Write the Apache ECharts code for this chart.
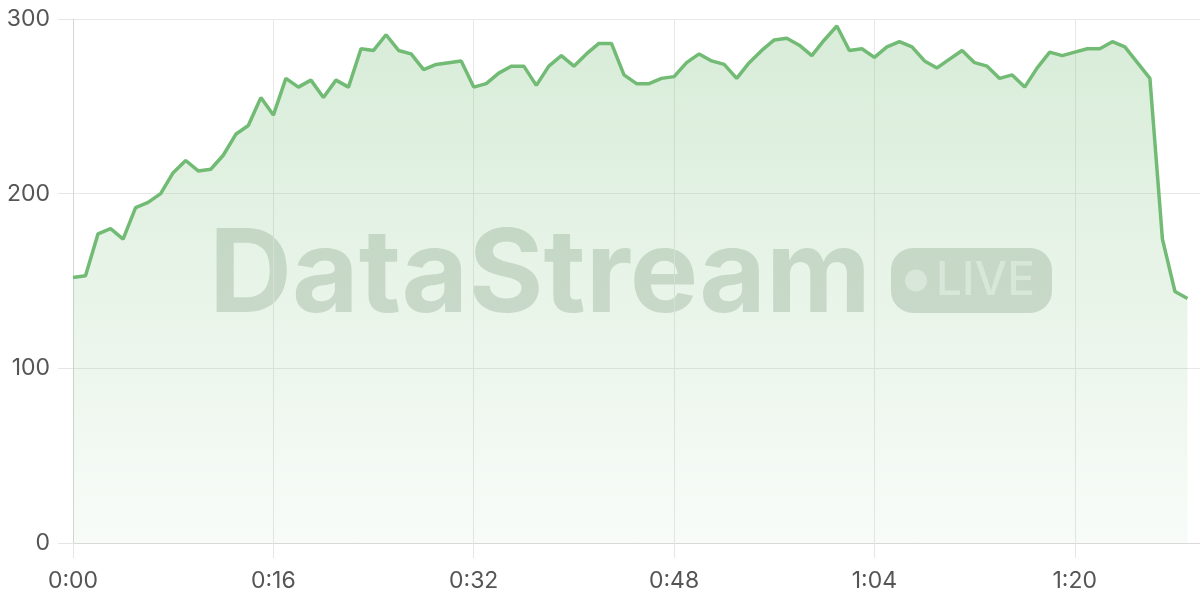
<!DOCTYPE html>
<html>
<head>
<meta charset="utf-8">
<script src="https://cdn.jsdelivr.net/npm/echarts@6/dist/echarts.min.js"></script>
<style>
html,body{margin:0;padding:0;background:#fff;}
#chart{width:1200px;height:600px;}
</style>
</head>
<body>
<div id="chart"></div>
<script>
// Values per second (0:00 .. 1:29)
const values = [
  152, 153, 177, 180, 174, 192, 195, 200, 212, 219,
  213, 214, 222, 234, 239, 255, 245, 266, 261, 265,
  255, 265, 261, 283, 282, 291, 282, 280, 271, 274,
  275, 276, 261, 263, 269, 273, 273, 262, 273, 279,
  273, 280, 286, 286, 268, 263, 263, 266, 267, 275,
  280, 276, 274, 266, 275, 282, 288, 289, 285, 279,
  288, 296, 282, 283, 278, 284, 287, 284, 276, 272,
  277, 282, 275, 273, 266, 268, 261, 272, 281, 279,
  281, 283, 283, 287, 284, 275, 266, 174, 144, 140
];
const yTicks = [0, 100, 200, 300];
const xTickSeconds = [0, 16, 32, 48, 64, 80];
const watermarkText = 'DataStream';
const badgeText = 'LIVE';

function fmt(sec) {
  return Math.floor(sec / 60) + ':' + String(sec % 60).padStart(2, '0');
}

const chart = echarts.init(document.getElementById('chart'), null, {renderer: 'canvas'});
const labelFont = 'Inter, "Noto Sans", sans-serif';
const wmFill = 'rgba(60,90,60,0.2)';

chart.setOption({
  animation: false,
  backgroundColor: '#ffffff',
  grid: {left: 73, right: 0, top: 19, bottom: 57},
  graphic: [
    {
      type: 'text', z: 0, silent: true,
      left: 209, top: 220,
      style: {
        text: watermarkText,
        font: 'bold 115px Inter, "Liberation Sans", sans-serif',
        fill: wmFill
      }
    },
    {
      type: 'group', z: 0, silent: true, left: 891, top: 248,
      children: [
        {type: 'rect', shape: {x: 0, y: 0, width: 161, height: 65, r: 22},
         style: {fill: wmFill}},
        {type: 'circle', shape: {cx: 25, cy: 32.5, r: 11},
         style: {fill: 'rgba(255,255,255,0.5)'}},
        {type: 'text', x: 45, y: 33,
         style: {text: badgeText, font: '500 46px Inter, "Noto Sans", sans-serif',
                 fill: 'rgba(255,255,255,0.5)', verticalAlign: 'middle', align: 'left'}}
      ]
    }
  ],
  xAxis: {
    type: 'value',
    min: 0, max: 90, interval: 16,
    axisLine: {show: true, lineStyle: {color: '#d9d9d9', width: 1}},
    axisTick: {show: true, length: 15, lineStyle: {color: '#e6e6e6'}},
    splitLine: {show: true, lineStyle: {color: '#e8e8e8', width: 1}},
    axisLabel: {
      margin: 27, fontSize: 23, color: '#555', fontFamily: labelFont,
      customValues: xTickSeconds,
      formatter: v => fmt(v)
    }
  },
  yAxis: {
    type: 'value',
    min: 0, max: 300, interval: 100,
    axisLine: {show: true, lineStyle: {color: '#d6d6d6', width: 1}},
    axisTick: {show: true, length: 15, lineStyle: {color: '#e6e6e6'}},
    splitLine: {show: true, lineStyle: {color: '#e8e8e8', width: 1}},
    axisLabel: {margin: 23, fontSize: 23, color: '#555', fontFamily: labelFont}
  },
  series: [{
    type: 'line',
    data: values.map((v, i) => [i, v]),
    showSymbol: false,
    symbol: 'none',
    z: 3,
    lineStyle: {color: '#72bb74', width: 3.5},
    itemStyle: {color: '#72bb74'},
    areaStyle: {
      color: new echarts.graphic.LinearGradient(0, 0, 0, 1, [
        {offset: 0, color: 'rgba(114,187,116,0.4)'},
        {offset: 1, color: 'rgba(114,187,116,0.07)'}
      ])
    }
  }]
});
</script>
</body>
</html>
